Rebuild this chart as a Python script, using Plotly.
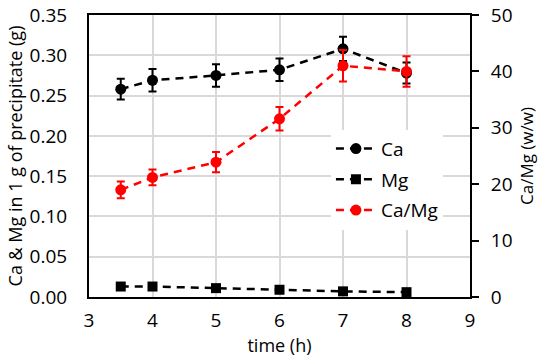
import plotly.graph_objects as go

time_h = [3.5, 4, 5, 6, 7, 8]
ca = [0.258, 0.269, 0.275, 0.282, 0.308, 0.278]
ca_err = [0.013, 0.014, 0.014, 0.014, 0.015, 0.013]
mg = [0.013, 0.013, 0.011, 0.009, 0.007, 0.006]
mg_err = [0.001, 0.001, 0.001, 0.001, 0.001, 0.001]
ratio = [19.0, 21.2, 23.9, 31.6, 41.0, 40.0]
ratio_err = [1.5, 1.4, 1.8, 2.1, 2.8, 2.7]

FONT = "Open Sans"
fig = go.Figure()

fig.add_trace(go.Scatter(
    x=time_h, y=ca, name="Ca", mode="lines+markers", legendgroup="a",
    line=dict(color="black", width=2.5, dash="8px,6px"),
    marker=dict(symbol="circle", size=11, color="black"),
    error_y=dict(type="data", array=ca_err, color="black", thickness=2, width=4),
))
fig.add_trace(go.Scatter(
    x=time_h, y=mg, name="Mg", mode="lines+markers", legendgroup="b",
    line=dict(color="black", width=2.5, dash="8px,6px"),
    marker=dict(symbol="square", size=10, color="black"),
    error_y=dict(type="data", array=mg_err, color="black", thickness=2, width=4),
))
fig.add_trace(go.Scatter(
    x=time_h, y=ratio, name="Ca/Mg", mode="lines+markers", yaxis="y2", legendgroup="c",
    line=dict(color="#ff0000", width=2.5, dash="8px,6px"),
    marker=dict(symbol="circle", size=11, color="#ff0000"),
    error_y=dict(type="data", array=ratio_err, color="#ff0000", thickness=2, width=4),
))

fig.update_layout(
    width=550, height=359,
    margin=dict(l=89, r=80, t=15, b=62),
    paper_bgcolor="white", plot_bgcolor="white",
    font=dict(family=FONT, size=19, color="black"),
    showlegend=True,
    legend=dict(x=0.635, y=0.593, xanchor="left", yanchor="top",
                bgcolor="white", borderwidth=0, tracegroupgap=3,
                itemwidth=40,
                traceorder="grouped", font=dict(size=19)),
    xaxis=dict(range=[3, 9], tickvals=[3, 4, 5, 6, 7, 8, 9],
               showgrid=True, gridcolor="#d9d9d9", gridwidth=1.5,
               showline=True, linecolor="black", linewidth=2, mirror=True,
               ticks="", zeroline=False, ticklabelstandoff=5, automargin=False,
               tickfont=dict(size=19),
               title=dict(text="time (h)", font=dict(size=18), standoff=4)),
    yaxis=dict(range=[0, 0.35], tickvals=[0, 0.05, 0.1, 0.15, 0.2, 0.25, 0.3, 0.35],
               tickformat=".2f", automargin=False,
               showgrid=True, gridcolor="#d9d9d9", gridwidth=1.5,
               showline=True, linecolor="black", linewidth=2,
               ticks="", zeroline=False, ticklabelstandoff=16,
               tickfont=dict(size=19),
               title=dict(text="Ca & Mg in 1 g of precipitate (g)", font=dict(size=18), standoff=2)),
    yaxis2=dict(range=[0, 50], tickvals=[0, 10, 20, 30, 40, 50],
                overlaying="y", side="right", showgrid=False, automargin=False,
                showline=True, linecolor="black", linewidth=2,
                ticks="outside", ticklen=7, tickwidth=2, tickcolor="black",
                zeroline=False, ticklabelstandoff=8, tickfont=dict(size=19),
                title=dict(text="Ca/Mg (w/w)", font=dict(size=17), standoff=10)),
)

fig.write_html("out.html", config={"displayModeBar": False},
               post_script="document.body.style.margin='0';")
